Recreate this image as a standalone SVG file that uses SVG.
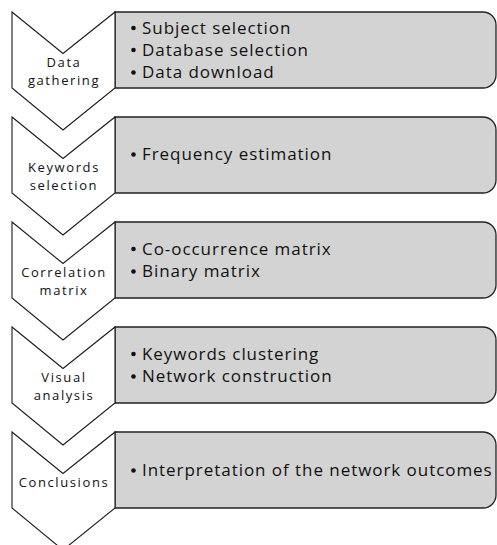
<svg xmlns="http://www.w3.org/2000/svg" width="497" height="545" viewBox="0 0 497 545">
<defs>
<style>
.chev{fill:#ffffff;stroke:#1a1a1a;stroke-width:1.1;stroke-linejoin:miter}
.box{fill:#d3d3d3;stroke:#222222;stroke-width:1.3}
.lab{font-family:"Open Sans","Liberation Sans",sans-serif;font-size:13px;letter-spacing:1.6px;fill:#111;text-anchor:middle}
.item{font-family:"Open Sans","Liberation Sans",sans-serif;font-size:17px;letter-spacing:0.95px;fill:#111}
.dot{fill:#111}
</style>
<path id="chevShape" d="M0,0 L51,41.5 L103,0 L103,76 L51,118 L0,76 Z"/>
<path id="boxShape" d="M0,0 H368 A13,13 0 0 1 381,13 V63 A13,13 0 0 1 368,76 H0 Z"/>
</defs>
<g id="connectors"></g>
<g id="step1">
<use href="#boxShape" class="box" x="115" y="12"/>
<use href="#chevShape" class="chev" x="12" y="12"/>
<text class="lab" x="64" y="66.5">Data</text>
<text class="lab" x="64" y="84.5">gathering</text>
<circle class="dot" cx="133.5" cy="28" r="2.3"/>
<text class="item" x="142" y="33.5">Subject selection</text>
<circle class="dot" cx="133.5" cy="50" r="2.3"/>
<text class="item" x="142" y="55.5">Database selection</text>
<circle class="dot" cx="133.5" cy="72.5" r="2.3"/>
<text class="item" x="142" y="78">Data download</text>
</g>
<g id="step2">
<use href="#boxShape" class="box" x="115" y="117"/>
<use href="#chevShape" class="chev" x="12" y="117"/>
<text class="lab" x="64" y="171.5">Keywords</text>
<text class="lab" x="64" y="189.5">selection</text>
<circle class="dot" cx="133.5" cy="154.5" r="2.3"/>
<text class="item" x="142" y="160">Frequency estimation</text>
</g>
<g id="step3">
<use href="#boxShape" class="box" x="115" y="222"/>
<use href="#chevShape" class="chev" x="12" y="222"/>
<text class="lab" x="64" y="276.5">Correlation</text>
<text class="lab" x="64" y="294.5">matrix</text>
<circle class="dot" cx="133.5" cy="249" r="2.3"/>
<text class="item" x="142" y="254.5">Co-occurrence matrix</text>
<circle class="dot" cx="133.5" cy="271.5" r="2.3"/>
<text class="item" x="142" y="277">Binary matrix</text>
</g>
<g id="step4">
<use href="#boxShape" class="box" x="115" y="327"/>
<use href="#chevShape" class="chev" x="12" y="327"/>
<text class="lab" x="64" y="381.5">Visual</text>
<text class="lab" x="64" y="399.5">analysis</text>
<circle class="dot" cx="133.5" cy="354" r="2.3"/>
<text class="item" x="142" y="359.5">Keywords clustering</text>
<circle class="dot" cx="133.5" cy="376.5" r="2.3"/>
<text class="item" x="142" y="382">Network construction</text>
</g>
<g id="step5">
<use href="#boxShape" class="box" x="115" y="432"/>
<use href="#chevShape" class="chev" x="12" y="432"/>
<text class="lab" x="64" y="487">Conclusions</text>
<circle class="dot" cx="133.5" cy="470.5" r="2.3"/>
<text class="item" x="142" y="476">Interpretation of the network outcomes</text>
</g>
</svg>
